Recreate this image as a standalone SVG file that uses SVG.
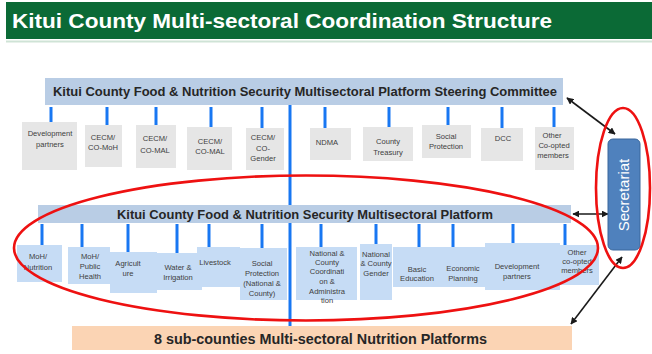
<svg xmlns="http://www.w3.org/2000/svg" width="652" height="354" viewBox="0 0 652 354">
  <defs>
    <marker id="arrow" viewBox="0 0 10 10" refX="9" refY="5" markerWidth="7" markerHeight="7" orient="auto-start-reverse" markerUnits="userSpaceOnUse">
      <path d="M0,0 L10,5 L0,10 z" fill="#1a1a1a"/>
    </marker>
    <style>
      .bar { fill: #b9cde5; }
      .bar-text { font-family: "Liberation Sans", Arial, sans-serif; font-weight: bold; font-size: 13px; fill: #262626; }
      .top-box { fill: #e6e6e6; }
      .low-box { fill: #c6dcf5; }
      .lbl { font-family: "Liberation Sans", Arial, sans-serif; font-size: 7.6px; fill: #404040; text-anchor: middle; }
      .tick { stroke: #1877f2; stroke-width: 3; }
      .spine { stroke: #1877f2; stroke-width: 3; }
      .link { stroke: #1a1a1a; stroke-width: 1.6; fill: none; marker-start: url(#arrow); marker-end: url(#arrow); }
      .ring { fill: none; stroke: #ee1111; stroke-width: 2.6; }
    </style>
  </defs>

  <rect width="652" height="354" fill="#ffffff"/>

  <!-- Heading band -->
  <g id="heading">
    <rect x="6" y="2" width="646" height="37" fill="#0b6a36"/>
    <line x1="6" y1="41.5" x2="652" y2="41.5" stroke="#cfe3d6" stroke-width="2"/>
    <text x="12" y="28" font-family="Liberation Sans, Arial, sans-serif" font-weight="bold" font-size="21" fill="#ffffff" textLength="540" lengthAdjust="spacingAndGlyphs">Kitui County Multi-sectoral Coordination Structure</text>
  </g>

  <!-- Connectors -->
  <g id="connectors">
    <line class="spine" x1="290" y1="105" x2="290" y2="326"/>
    <!-- steering committee members -->
    <line class="tick" x1="51" y1="107" x2="51" y2="122"/>
    <line class="tick" x1="107" y1="107" x2="107" y2="125"/>
    <line class="tick" x1="156" y1="107" x2="156" y2="125"/>
    <line class="tick" x1="211" y1="107" x2="211" y2="127"/>
    <line class="tick" x1="262" y1="107" x2="262" y2="128"/>
    <line class="tick" x1="325" y1="107" x2="325" y2="128"/>
    <line class="tick" x1="389" y1="107" x2="389" y2="127"/>
    <line class="tick" x1="448" y1="107" x2="448" y2="125"/>
    <line class="tick" x1="502" y1="107" x2="502" y2="128"/>
    <line class="tick" x1="554" y1="107" x2="554" y2="127"/>
    <!-- platform members -->
    <line class="tick" x1="42" y1="224" x2="42" y2="245"/>
    <line class="tick" x1="82" y1="224" x2="82" y2="247"/>
    <line class="tick" x1="128" y1="224" x2="128" y2="252"/>
    <line class="tick" x1="177" y1="224" x2="177" y2="253"/>
    <line class="tick" x1="209" y1="224" x2="209" y2="247"/>
    <line class="tick" x1="262" y1="224" x2="262" y2="248"/>
    <line class="tick" x1="321" y1="224" x2="321" y2="247"/>
    <line class="tick" x1="376" y1="224" x2="376" y2="244"/>
    <line class="tick" x1="419" y1="224" x2="419" y2="247"/>
    <line class="tick" x1="453" y1="224" x2="453" y2="247"/>
    <line class="tick" x1="513" y1="224" x2="513" y2="243"/>
    <line class="tick" x1="565" y1="224" x2="565" y2="245"/>
    <!-- secretariat links -->
    <line class="link" x1="567" y1="98" x2="615" y2="134"/>
    <line class="link" x1="573" y1="214" x2="608" y2="214"/>
    <line class="link" x1="622" y1="257" x2="571" y2="324"/>
  </g>

  <!-- Steering committee -->
  <g id="steering-committee">
    <rect class="bar" x="45" y="78" width="518" height="27"/>
    <text class="bar-text" x="53" y="96" textLength="504" lengthAdjust="spacingAndGlyphs">Kitui County Food &amp; Nutrition Security Multisectoral Platform Steering Committee</text>
  </g>

  <g id="sc-development-partners">
    <rect class="top-box" x="22" y="122" width="55" height="48"/>
    <text class="lbl" x="50" y="136">Development</text>
    <text class="lbl" x="50" y="147">partners</text>
  </g>
  <g id="sc-cecm-moh">
    <rect class="top-box" x="85" y="125" width="37" height="42"/>
    <text class="lbl" x="103" y="140">CECM/</text>
    <text class="lbl" x="103" y="150">CO-MoH</text>
  </g>
  <g id="sc-cecm-mal-1">
    <rect class="top-box" x="136" y="125" width="40" height="43"/>
    <text class="lbl" x="155" y="141">CECM/</text>
    <text class="lbl" x="155" y="153">CO-MAL</text>
  </g>
  <g id="sc-cecm-mal-2">
    <rect class="top-box" x="187" y="127" width="45" height="43"/>
    <text class="lbl" x="210" y="144">CECM/</text>
    <text class="lbl" x="210" y="154">CO-MAL</text>
  </g>
  <g id="sc-cecm-gender">
    <rect class="top-box" x="246" y="128" width="38" height="42"/>
    <text class="lbl" x="263" y="140">CECM/</text>
    <text class="lbl" x="263" y="151">CO-</text>
    <text class="lbl" x="263" y="161">Gender</text>
  </g>
  <g id="sc-ndma">
    <rect class="top-box" x="310" y="128" width="41" height="32"/>
    <text class="lbl" x="327" y="145">NDMA</text>
  </g>
  <g id="sc-county-treasury">
    <rect class="top-box" x="363" y="127" width="50" height="34"/>
    <text class="lbl" x="388" y="144">County</text>
    <text class="lbl" x="388" y="155">Treasury</text>
  </g>
  <g id="sc-social-protection">
    <rect class="top-box" x="422" y="125" width="49" height="33"/>
    <text class="lbl" x="446" y="139">Social</text>
    <text class="lbl" x="446" y="149">Protection</text>
  </g>
  <g id="sc-dcc">
    <rect class="top-box" x="481" y="128" width="42" height="33"/>
    <text class="lbl" x="503" y="141">DCC</text>
  </g>
  <g id="sc-other">
    <rect class="top-box" x="535" y="127" width="39" height="43"/>
    <text class="lbl" x="552" y="138">Other</text>
    <text class="lbl" x="554" y="148">Co-opted</text>
    <text class="lbl" x="553" y="158">members</text>
  </g>

  <!-- Multisectoral platform -->
  <g id="platform">
    <rect class="bar" x="38" y="205" width="533" height="18"/>
    <text class="bar-text" x="117" y="219" textLength="376" lengthAdjust="spacingAndGlyphs">Kitui County Food &amp; Nutrition Security Multisectoral Platform</text>
  </g>

  <g id="pf-moh-nutrition">
    <rect class="low-box" x="17" y="245" width="45" height="37"/>
    <text class="lbl" x="38" y="259">MoH/</text>
    <text class="lbl" x="38" y="270">Nutrition</text>
  </g>
  <g id="pf-moh-public-health">
    <rect class="low-box" x="68" y="247" width="42" height="37"/>
    <text class="lbl" x="90" y="259">MoH/</text>
    <text class="lbl" x="90" y="269">Public</text>
    <text class="lbl" x="90" y="279">Health</text>
  </g>
  <g id="pf-agriculture">
    <rect class="low-box" x="110" y="252" width="47" height="41"/>
    <text class="lbl" x="128" y="266">Agricult</text>
    <text class="lbl" x="128" y="276">ure</text>
  </g>
  <g id="pf-water">
    <rect class="low-box" x="157" y="253" width="45" height="37"/>
    <text class="lbl" x="178" y="270">Water &amp;</text>
    <text class="lbl" x="178" y="280">Irrigation</text>
  </g>
  <g id="pf-livestock">
    <rect class="low-box" x="197" y="247" width="43" height="40"/>
    <text class="lbl" x="215" y="265">Livestock</text>
  </g>
  <g id="pf-social-protection">
    <rect class="low-box" x="240" y="248" width="47" height="52"/>
    <text class="lbl" x="262" y="266">Social</text>
    <text class="lbl" x="262" y="276">Protection</text>
    <text class="lbl" x="262" y="286">(National &amp;</text>
    <text class="lbl" x="262" y="296">County)</text>
  </g>
  <g id="pf-coordination">
    <rect class="low-box" x="296" y="247" width="61" height="53"/>
    <text class="lbl" x="327" y="256">National &amp;</text>
    <text class="lbl" x="327" y="265">County</text>
    <text class="lbl" x="327" y="274">Coordinati</text>
    <text class="lbl" x="327" y="284">on &amp;</text>
    <text class="lbl" x="327" y="294">Administra</text>
    <text class="lbl" x="327" y="303">tion</text>
  </g>
  <g id="pf-gender">
    <rect class="low-box" x="360" y="244" width="32" height="56"/>
    <text class="lbl" x="376" y="257">National</text>
    <text class="lbl" x="376" y="266">&amp; County</text>
    <text class="lbl" x="376" y="276">Gender</text>
  </g>
  <g id="pf-basic-education">
    <rect class="low-box" x="393" y="247" width="47" height="40"/>
    <text class="lbl" x="417" y="272">Basic</text>
    <text class="lbl" x="417" y="281">Education</text>
  </g>
  <g id="pf-economic-planning">
    <rect class="low-box" x="440" y="247" width="45" height="40"/>
    <text class="lbl" x="463" y="271">Economic</text>
    <text class="lbl" x="463" y="281">Planning</text>
  </g>
  <g id="pf-development-partners">
    <rect class="low-box" x="485" y="243" width="75" height="47"/>
    <text class="lbl" x="517" y="269">Development</text>
    <text class="lbl" x="517" y="279">partners</text>
  </g>
  <g id="pf-other">
    <rect class="low-box" x="560" y="245" width="39" height="40"/>
    <text class="lbl" x="577" y="255">Other</text>
    <text class="lbl" x="577" y="264">co-opted</text>
    <text class="lbl" x="577" y="273">members</text>
  </g>

  <!-- Sub-county platforms -->
  <g id="sub-counties">
    <rect x="72" y="326" width="500" height="24" fill="#fbd4b4"/>
    <text x="154" y="344" font-family="Liberation Sans, Arial, sans-serif" font-weight="bold" font-size="14" fill="#262626" textLength="333" lengthAdjust="spacingAndGlyphs">8 sub-counties Multi-sectoral Nutrition Platforms</text>
  </g>

  <!-- Secretariat -->
  <g id="secretariat">
    <rect x="608" y="139" width="32" height="111" rx="5" fill="#4f81bd" stroke="#3a679c" stroke-width="1"/>
    <text x="0" y="0" transform="translate(629,195) rotate(-90)" font-family="Liberation Sans, Arial, sans-serif" font-size="15" fill="#ffffff" text-anchor="middle">Secretariat</text>
  </g>

  <!-- Highlight rings -->
  <g id="highlights">
    <ellipse class="ring" cx="306" cy="248" rx="292" ry="72.5"/>
    <ellipse class="ring" cx="623" cy="188" rx="27" ry="80"/>
  </g>
</svg>
